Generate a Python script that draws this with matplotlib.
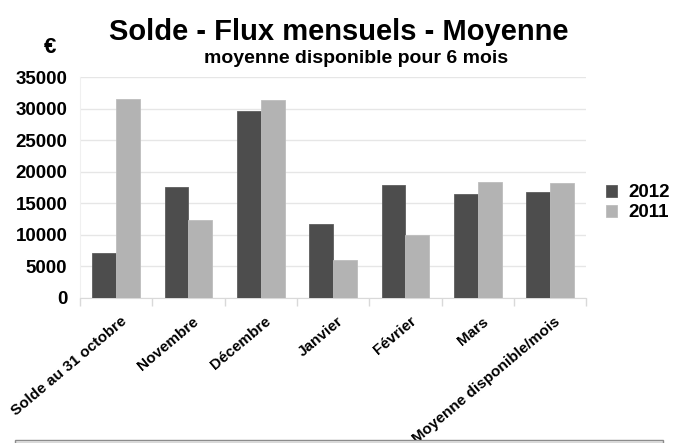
import matplotlib.pyplot as plt
import matplotlib as mpl
import numpy as np
from matplotlib.patches import Rectangle

mpl.rcParams['font.family'] = 'Liberation Sans'
mpl.rcParams['font.weight'] = 'bold'

categories = ['Solde au 31 octobre', 'Novembre', 'Décembre', 'Janvier',
              'Février', 'Mars', 'Moyenne disponible/mois']
vals_2012 = [7100, 17500, 29600, 11650, 17850, 16450, 16750]
vals_2011 = [31550, 12400, 31350, 6000, 9950, 18400, 18250]
series_names = ['2012', '2011']
yticks = [0, 5000, 10000, 15000, 20000, 25000, 30000, 35000]

fig = plt.figure(figsize=(6.77, 4.43), dpi=100)
ax = fig.add_axes([0.118, 0.328, 0.748, 0.4975])

x = np.arange(len(categories))
w = 0.33
b1 = ax.bar(x - w / 2, vals_2012, w, color='#4d4d4d', edgecolor='#5e5e5e', linewidth=0.6, label=series_names[0], zorder=3)
b2 = ax.bar(x + w / 2, vals_2011, w, color='#b3b3b3', edgecolor='#bdbdbd', linewidth=0.6, label=series_names[1], zorder=3)

ax.set_xlim(-0.5, len(categories) - 0.5)
ax.set_ylim(0, 35000)
ax.set_yticks(yticks)
ax.set_yticklabels([str(t) for t in yticks], fontsize=13.5, fontweight='bold')
ax.yaxis.grid(True, color='#e6e6e6', linewidth=1, zorder=0)
ax.tick_params(axis='y', length=0, pad=9)

# séparateurs de catégories en ticks mineurs
ax.set_xticks(x)
ax.set_xticklabels(categories, rotation=40, ha='right', rotation_mode='anchor',
                   fontsize=11, fontweight='bold')
ax.set_xticks(np.arange(len(categories) + 1) - 0.5, minor=True)
ax.tick_params(axis='x', which='major', length=0, pad=12)
ax.tick_params(axis='x', which='minor', length=6, color='#d9d9d9', width=1)
offset = mpl.transforms.ScaledTranslation(4 / 100, 0, fig.dpi_scale_trans)
for lbl in ax.get_xticklabels():
    lbl.set_transform(lbl.get_transform() + offset)

for s in ['top', 'right']:
    ax.spines[s].set_visible(False)
ax.spines['left'].set_color('#f0f0f0')
ax.spines['bottom'].set_color('#d9d9d9')

fig.text(0.501, 0.928, 'Solde - Flux mensuels - Moyenne', ha='center', va='center',
         fontsize=21, fontweight='bold')
fig.text(0.526, 0.869, 'moyenne disponible pour 6 mois', ha='center', va='center',
         fontsize=14, fontweight='bold')
fig.text(0.074, 0.893, '€', ha='center', va='center', fontsize=16, fontweight='bold')

leg = fig.legend(handles=[b1, b2], loc='center left', bbox_to_anchor=(0.895, 0.542),
                 frameon=False, fontsize=13.5, handlelength=0.6, handleheight=0.6,
                 handletextpad=0.6, labelspacing=0.15, borderaxespad=0, borderpad=0)
for t in leg.get_texts():
    t.set_fontweight('bold')

fig.patches.append(Rectangle((15 / 677, 0), 648 / 677, 3.5 / 443, transform=fig.transFigure,
                             facecolor='#ececec', edgecolor='#8c8c8c', linewidth=1))

plt.savefig('out.png', dpi=100)
